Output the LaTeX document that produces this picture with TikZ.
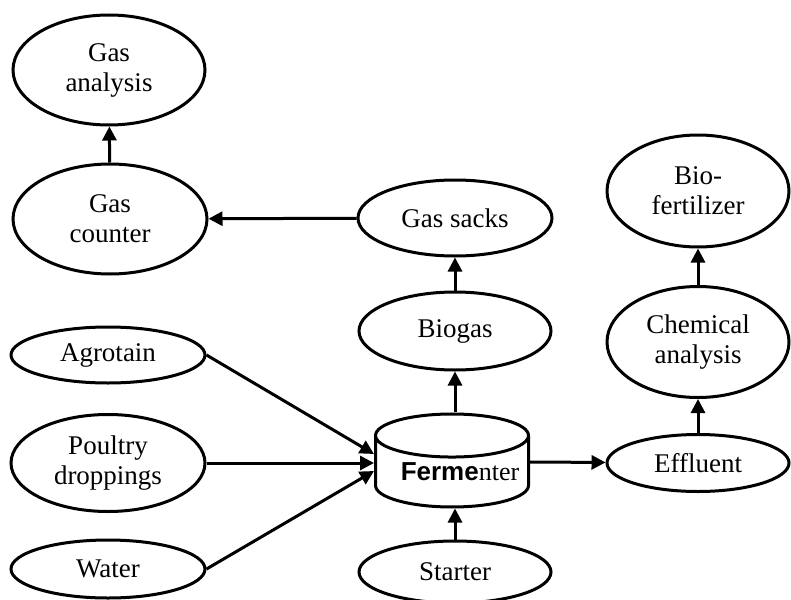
\documentclass[tikz,border=0pt]{standalone}
\usepackage{fontspec}
\setmainfont{Liberation Serif}
\setsansfont{Liberation Sans}
\usetikzlibrary{arrows.meta,shapes.geometric}
\tikzset{
      myoval/.style 2 args={
        draw=black,
        ellipse,
        line width=1.5pt,
        inner sep=0pt,
        align=center,
        font=\fontsize{13.5}{15}\selectfont,
        minimum width=#1,
        minimum height=#2
      },
      mytank/.style={
        draw=black,
        cylinder,
        shape border rotate=90,
        aspect=0.32,
        line width=1.5pt,
        inner sep=0pt,
        align=center,
        font=\fontsize{13}{14}\selectfont,
        minimum width=76.5pt,
        minimum height=46.5pt
      },
      myarrow/.style={
        -{Triangle[length=7pt,width=7pt]},
        line width=1.5pt
      },
    }

\begin{document}
\begin{tikzpicture}[x=0.5pt,y=-0.5pt]
          \useasboundingbox (0,0) rectangle (791,599);

          % gas side
          \node[myoval={96pt}{55pt}] at (109,70)
            (gasan)
            {Gas\\analysis};
          \node[myoval={97pt}{55pt}] at (110,219)
            (gascount)
            {Gas\\counter};
          \node[myoval={97pt}{38pt}] at (455,218)
            (sacks)
            {Gas sacks};
          \node[myoval={96pt}{39pt}] at (455,331)
            (biogas)
            {Biogas};

          % inputs
          \node[myoval={97pt}{28pt}] at (108,355)
            (agro)
            {Agrotain};
          \node[myoval={97pt}{48.5pt}] at (108,463)
            (poultry)
            {Poultry\\droppings};
          \node[myoval={97pt}{29pt}] at (108,569)
            (water)
            {Water};
          \node[myoval={96pt}{31pt}] at (455,572)
            (starter)
            {Starter};

          \node[mytank] at (452,472)
            (ferm)
            {\hspace*{8pt}{\sffamily\bfseries Ferme}nter};

          % effluent side
          \node[myoval={91pt}{28.5pt}] at (698,463)
            (effl)
            {Effluent};
          \node[myoval={91pt}{55.5pt}] at (698,342)
            (chem)
            {Chemical\\analysis};
          \node[myoval={91pt}{56pt}] at (698,191)
            (biofert)
            {Bio-\\fertilizer};

          \draw[myarrow] (gascount) -- (gasan);
          \draw[myarrow] (sacks) -- (gascount);
          \draw[myarrow] (biogas) -- (sacks);
          \draw[myarrow] (ferm.north -| biogas.south) -- (biogas);
          \draw[myarrow] (agro.east) -- ([yshift=9pt]ferm.west);
          \draw[myarrow] (poultry.east) -- ([yshift=4.5pt]ferm.west);
          \draw[myarrow] (water.east) -- ([yshift=0.5pt]ferm.west);
          \draw[myarrow] (starter) -- (ferm.south -| starter.north);
          \draw[myarrow] ([yshift=5pt]ferm.east) -- (effl);
          \draw[myarrow] (effl) -- (chem);
          \draw[myarrow] (chem) -- (biofert);
        \end{tikzpicture}
\end{document}
